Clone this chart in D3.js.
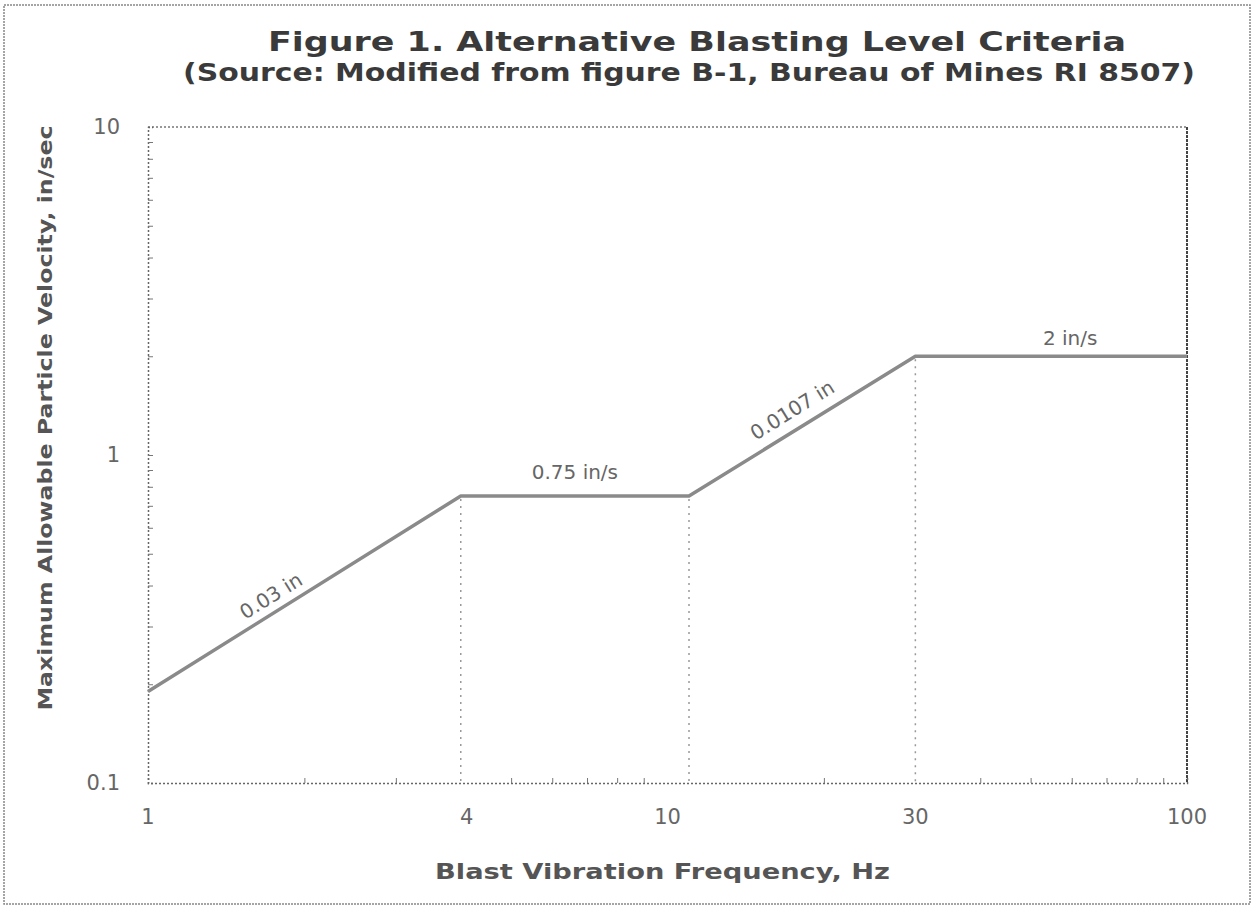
<!DOCTYPE html>
<html lang="en">
<head>
<meta charset="UTF-8">
<title>Figure 1. Alternative Blasting Level Criteria</title>
<script src="https://d3js.org/d3.v7.min.js"></script>
<style>
    body { margin: 0; padding: 0; background: #fff; }
    svg text { font-family: "DejaVu Sans", "Liberation Sans", Arial, sans-serif; fill: #4a4a4a; }
    .title { font-weight: bold; fill: #3a3a3a; }
    .axis-title { font-weight: bold; fill: #555; }
    .tick-label { font-size: 21px; fill: #666; }
    .seg-label { font-size: 20px; fill: #666; }
</style>
</head>
<body>
<svg id="chart"></svg>
<script>
    // 数据：频率（Hz）与允许的最大质点速度（in/s）的折线拐点
    const freq = [1, 4, 11, 30, 100];
    const velocity = [0.19, 0.75, 0.75, 2, 2];

    // 刻度标签
    const xTicks = [1, 4, 10, 30, 100];
    const yTicks = [0.1, 1, 10];

    // 每段折线上的文字（起点索引、终点索引、文字）
    const segFrom = [0, 1, 2, 3];
    const segTo = [1, 2, 3, 4];
    const segText = ["0.03 in", "0.75 in/s", "0.0107 in", "2 in/s"];

    // 垂直虚线落在这些拐点上
    const dropIdx = [1, 2, 3];

    const W = 1255, H = 908;
    const margin = { top: 127, right: 68, bottom: 125, left: 148 };
    const width = W - margin.left - margin.right;
    const height = H - margin.top - margin.bottom;

    const root = d3.select("#chart").attr("width", W).attr("height", H);

    // 外框
    root.append("rect")
        .attr("x", 4).attr("y", 5)
        .attr("width", 1246).attr("height", 899)
        .attr("fill", "none")
        .attr("stroke", "#888")
        .attr("stroke-width", 1.5)
        .attr("stroke-dasharray", "2,1");

    // 标题
    root.append("text")
        .attr("class", "title")
        .attr("x", 697).attr("y", 51)
        .attr("text-anchor", "middle")
        .attr("font-size", 27)
        .attr("textLength", 858).attr("lengthAdjust", "spacingAndGlyphs")
        .text("Figure 1.  Alternative Blasting Level Criteria");
    root.append("text")
        .attr("class", "title")
        .attr("x", 689).attr("y", 81)
        .attr("text-anchor", "middle")
        .attr("font-size", 24)
        .attr("textLength", 1012).attr("lengthAdjust", "spacingAndGlyphs")
        .text("(Source:  Modified from figure B-1, Bureau of Mines RI 8507)");

    const svg = root.append("g").attr("transform", `translate(${margin.left},${margin.top})`);

    const x = d3.scaleLog().domain([1, 100]).range([0, width]);
    const y = d3.scaleLog().domain([0.1, 10]).range([height, 0]);

    // 绘图区边框（虚线）
    svg.append("line").attr("x1", 0).attr("x2", width).attr("y1", 0).attr("y2", 0)
        .attr("stroke", "#777").attr("stroke-width", 1.5).attr("stroke-dasharray", "2,2");
    svg.append("line").attr("x1", width).attr("x2", width).attr("y1", 0).attr("y2", height)
        .attr("stroke", "#444").attr("stroke-width", 2).attr("stroke-dasharray", "3,1");

    // x 轴
    const minorX = [2, 3, 5, 6, 7, 8, 9, 20, 40, 50, 60, 70, 80, 90];
    const xAxis = svg.append("g")
        .attr("transform", `translate(0,${height})`)
        .call(d3.axisBottom(x).tickValues(minorX).tickSize(-5).tickFormat(""));
    xAxis.select(".domain").attr("stroke", "#666").attr("stroke-width", 1.5).attr("stroke-dasharray", "2,2");
    xAxis.selectAll(".tick line").attr("stroke", "#777");

    svg.selectAll(".x-label")
        .data(xTicks)
        .join("text")
        .attr("class", "tick-label x-label")
        .attr("x", d => x(d) + (d === 4 ? 6 : 0))
        .attr("y", height + 41)
        .attr("text-anchor", "middle")
        .text(d => d);

    // y 轴
    const minorY = [0.2, 0.3, 0.4, 0.5, 0.6, 0.7, 0.8, 0.9, 2, 3, 4, 5, 6, 7, 8, 9];
    const yAxis = svg.append("g")
        .call(d3.axisLeft(y).tickValues(minorY.concat([1])).tickSize(-5).tickFormat(""));
    yAxis.select(".domain").attr("stroke", "#666").attr("stroke-width", 1.5).attr("stroke-dasharray", "2,2");
    yAxis.selectAll(".tick line").attr("stroke", "#777");

    svg.selectAll(".y-label")
        .data(yTicks)
        .join("text")
        .attr("class", "tick-label y-label")
        .attr("x", -28)
        .attr("y", d => y(d))
        .attr("dy", "0.35em")
        .attr("text-anchor", "end")
        .text(d => d);

    // 轴标题
    svg.append("text")
        .attr("class", "axis-title")
        .attr("x", x(10) - 5)
        .attr("y", height + 96)
        .attr("text-anchor", "middle")
        .attr("font-size", 22)
        .attr("textLength", 455).attr("lengthAdjust", "spacingAndGlyphs")
        .text("Blast Vibration Frequency, Hz");
    svg.append("text")
        .attr("class", "axis-title")
        .attr("transform", `translate(-96,${y(1) - 37}) rotate(-90)`)
        .attr("text-anchor", "middle")
        .attr("font-size", 20)
        .attr("textLength", 585).attr("lengthAdjust", "spacingAndGlyphs")
        .text("Maximum Allowable Particle Velocity, in/sec");

    const pts = freq.map((f, i) => [f, velocity[i]]);

    // 拐点下方的垂直虚线
    svg.selectAll(".drop")
        .data(dropIdx)
        .join("line")
        .attr("class", "drop")
        .attr("x1", i => x(freq[i])).attr("x2", i => x(freq[i]))
        .attr("y1", i => y(velocity[i]) + 3).attr("y2", height)
        .attr("stroke", "#999")
        .attr("stroke-width", 1.5)
        .attr("stroke-dasharray", "2,5");

    // 标准折线
    svg.append("path")
        .datum(pts)
        .attr("fill", "none")
        .attr("stroke", "#8a8a8a")
        .attr("stroke-width", 3.5)
        .attr("stroke-linejoin", "round")
        .attr("d", d3.line().x(d => x(d[0])).y(d => y(d[1])));

    // 每段文字的位置：沿线段的比例和离线距离
    const segPos = [0.42, 0.5, 0.5, 0.57];
    const segLift = [9, 17, 12, 11];

    svg.selectAll(".seg-label")
        .data(segText)
        .join("text")
        .attr("class", "seg-label")
        .attr("text-anchor", "middle")
        .attr("transform", (t, i) => {
            const a = segFrom[i], b = segTo[i];
            const x0 = x(freq[a]), y0 = y(velocity[a]);
            const x1 = x(freq[b]), y1 = y(velocity[b]);
            const ang = Math.atan2(y1 - y0, x1 - x0) * 180 / Math.PI;
            const cx = x0 + (x1 - x0) * segPos[i], cy = y0 + (y1 - y0) * segPos[i];
            return `translate(${cx},${cy}) rotate(${ang}) translate(0,${-segLift[i]})`;
        })
        .text(t => t);
</script>
</body>
</html>
